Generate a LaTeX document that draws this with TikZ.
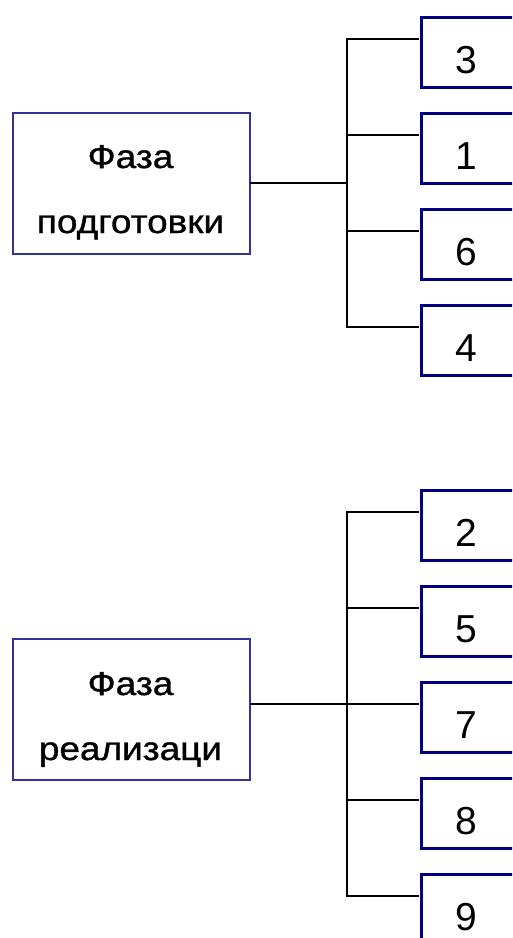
\documentclass[tikz,border=0pt]{standalone}
\usepackage{fontspec}
\setmainfont{Liberation Sans}
\newfontfamily\widefont[FakeStretch=1.12,FakeBold=1]{Liberation Sans}
\definecolor{navy}{RGB}{0,0,128}
\definecolor{phaseblue}{RGB}{51,51,153}
\begin{document}
\begin{tikzpicture}[x=1pt,y=-1pt,
  phasebox/.style={draw=phaseblue,line width=2pt,minimum width=237pt,minimum height=141pt,inner sep=0pt,anchor=north west},
  numbox/.style={draw=navy,line width=3pt,minimum width=130pt,minimum height=70pt,inner sep=0pt,anchor=north west},
  phasetext/.style={font=\widefont\fontsize{33}{38}\selectfont,anchor=base,inner sep=0pt},
  numtext/.style={font=\fontsize{39}{44}\selectfont,anchor=base,inner sep=0pt},
  link/.style={line width=1.5pt,line cap=rect}]
\path[use as bounding box] (0,0) rectangle (512,938);
\clip (0,0) rectangle (512,938);

% ---- preparation phase ----
\node[phasebox] (prep) at (12,112) {};
\node[phasetext] (prepA) at (130.5,168) {Фаза};
\node[phasetext] (prepB) at (130.5,233) {подготовки};

\foreach \n/\t/\y in {3/u1/39, 1/u2/135, 6/u3/231, 4/u4/327}{
  \node[numbox] (\t) at (419.5,\y-23.5) {};
  \node[numtext] (\t d) at (466,\y+34.5) {\n};
  \coordinate (\t j) at (347,\y);
  \coordinate (\t e) at (418,\y);
}
\coordinate (prepj) at (347,183);
\draw[link] (prep.east |- prepj) -- (prepj);
\draw[link] (u1j) -- (u4j);
\foreach \t in {u1,u2,u3,u4}{\draw[link] (\t j) -- (\t e);}

% ---- realisation phase ----
\node[phasebox] (real) at (12,638) {};
\node[phasetext] (realA) at (130.5,695) {Фаза};
\node[phasetext] (realB) at (130.5,760) {реализаци};

\foreach \n/\t/\y in {2/l1/512, 5/l2/608, 7/l3/704, 8/l4/800, 9/l5/896}{
  \node[numbox] (\t) at (419.5,\y-23.5) {};
  \node[numtext] (\t d) at (466,\y+34.5) {\n};
  \coordinate (\t j) at (347,\y);
  \coordinate (\t e) at (418,\y);
}
\coordinate (realj) at (347,704);
\draw[link] (real.east |- realj) -- (realj);
\draw[link] (l1j) -- (l5j);
\foreach \t in {l1,l2,l3,l4,l5}{\draw[link] (\t j) -- (\t e);}
\end{tikzpicture}
\end{document}
